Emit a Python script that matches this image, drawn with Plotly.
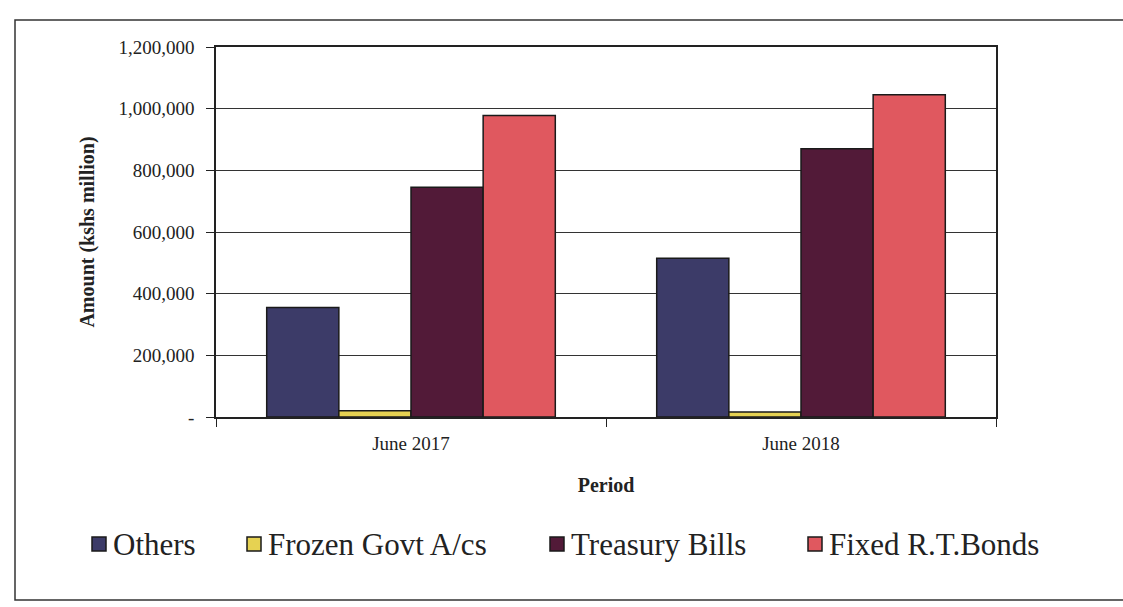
import plotly.graph_objects as go

periods = ["June 2017", "June 2018"]
others = [355000, 515000]
frozen_govt = [20000, 16000]
treasury_bills = [745000, 870000]
fixed_bonds = [978000, 1045000]

y_ticks = [0, 200000, 400000, 600000, 800000, 1000000, 1200000]
y_tick_text = ["-", "200,000", "400,000", "600,000", "800,000", "1,000,000", "1,200,000"]

series = [
    ("Others", others, "#3c3b68"),
    ("Frozen Govt A/cs", frozen_govt, "#e6d252"),
    ("Treasury Bills", treasury_bills, "#521a38"),
    ("Fixed R.T.Bonds", fixed_bonds, "#e0585f"),
]

serif = "Liberation Serif, Times New Roman, serif"
ink = "#222222"

W, H = 1123, 607
M_L, M_R, M_T, M_B = 216, 127, 47, 190
plot_w = W - M_L - M_R
plot_h = H - M_T - M_B


def px_to_paper_x(px):
    return (px - M_L) / plot_w


def px_to_paper_y(py):
    return (H - M_B - py) / plot_h


fig = go.Figure()
for name, vals, color in series:
    fig.add_trace(go.Bar(
        x=periods, y=vals, name=name, showlegend=False,
        marker=dict(color=color, line=dict(color="#1a1a1a", width=1.5)),
    ))

fig.update_layout(
    width=W, height=H,
    margin=dict(l=M_L, r=M_R, t=M_T, b=M_B),
    paper_bgcolor="white", plot_bgcolor="white",
    barmode="group", bargap=0.26, bargroupgap=0,
    font=dict(family=serif, color=ink),
    xaxis=dict(
        showline=True, linecolor=ink, linewidth=1.5, mirror=True,
        ticks="outside", tickson="boundaries", ticklen=8, tickcolor=ink,
        ticklabelstandoff=8,
        tickfont=dict(family=serif, size=19, color=ink),
        title=dict(text="<b>Period</b>", font=dict(family=serif, size=20, color=ink), standoff=25),
    ),
    yaxis=dict(
        range=[0, 1200000], tickvals=y_ticks, ticktext=y_tick_text,
        showline=True, linecolor=ink, linewidth=1.5, mirror=True,
        showgrid=True, gridcolor="#333333", gridwidth=1,
        ticks="outside", ticklen=8, tickcolor=ink,
        ticklabelstandoff=8,
        tickfont=dict(family=serif, size=19, color=ink),
        title=dict(text="<b>Amount (kshs million)</b>", font=dict(family=serif, size=20, color=ink), standoff=18),
        zeroline=False,
    ),
)

# legend row below the chart: colour key square followed by the series name
legend_left_px = [92, 247, 550, 808]
legend_mid_px = 544
key_size = 14
for (name, _, color), lx in zip(series, legend_left_px):
    fig.add_shape(
        type="rect", xref="paper", yref="paper",
        x0=px_to_paper_x(lx), x1=px_to_paper_x(lx + key_size),
        y0=px_to_paper_y(legend_mid_px + key_size / 2), y1=px_to_paper_y(legend_mid_px - key_size / 2),
        fillcolor=color, line=dict(color="#1a1a1a", width=1.5),
    )
    fig.add_annotation(
        text=name, xref="paper", yref="paper",
        x=px_to_paper_x(lx + key_size + 5), y=px_to_paper_y(legend_mid_px),
        xanchor="left", yanchor="middle", showarrow=False,
        font=dict(family=serif, size=31, color=ink),
    )

# outer chart frame
fig.add_shape(type="rect", xref="paper", yref="paper",
              x0=px_to_paper_x(15), x1=px_to_paper_x(1150),
              y0=px_to_paper_y(600), y1=px_to_paper_y(20),
              line=dict(color="#333333", width=1.5))

fig.write_html("out.html")
